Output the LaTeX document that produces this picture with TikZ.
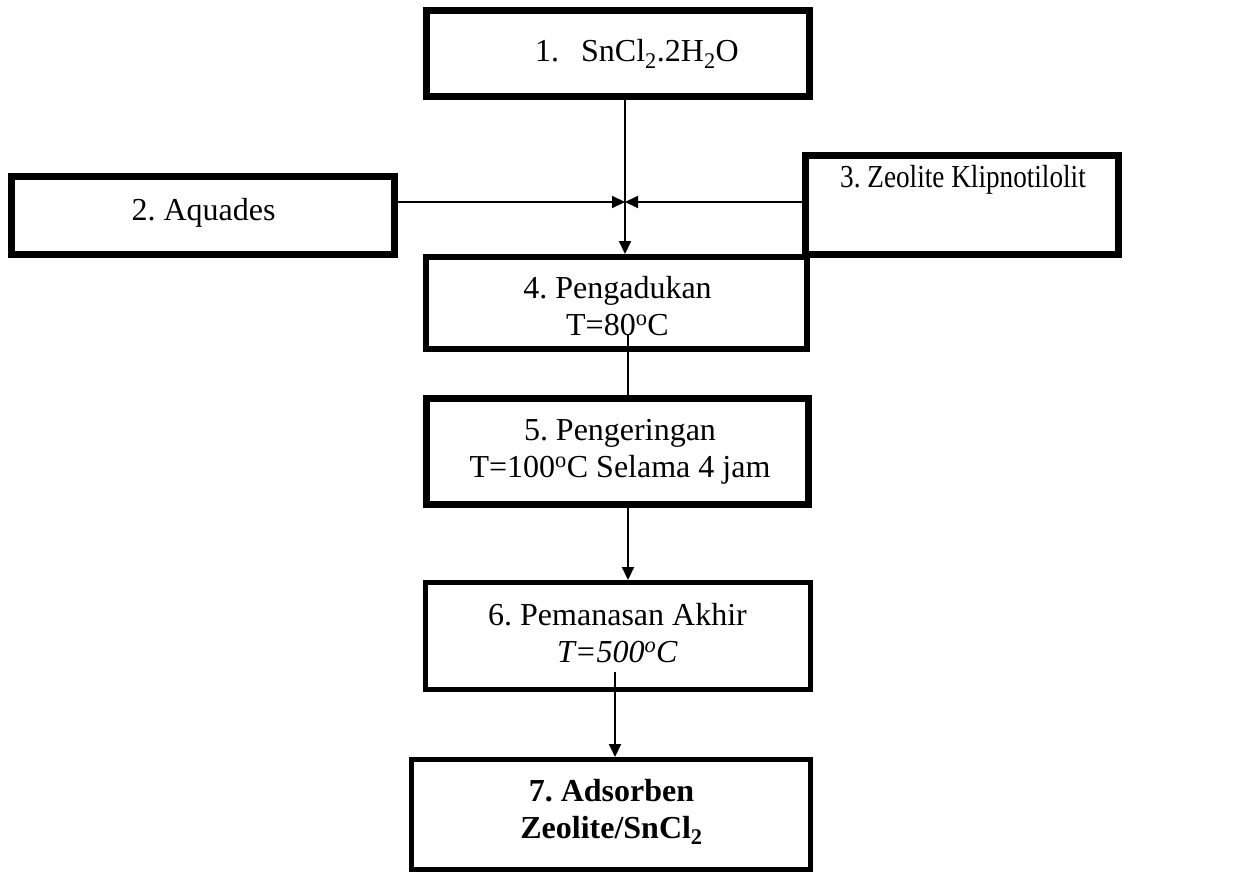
\documentclass[tikz,border=0pt]{standalone}
\usepackage{fontspec}
\usepackage{graphicx}
\setmainfont{Liberation Serif}
\usetikzlibrary{arrows.meta}
\begin{document}
\frenchspacing
\begin{tikzpicture}[x=1pt,y=-1pt,
  box/.style={draw=black,fill=white,rectangle,inner sep=0pt},
  lbl/.style={anchor=base,align=center,inner sep=0pt,font=\fontsize{32}{37}\selectfont},
  conn/.style={draw=black,line width=2pt},
  arr/.style={conn,-{Triangle[length=13pt,width=12pt]}}]
\useasboundingbox (0,0) rectangle (1233,872);
% boxes
\node[box,line width=7pt,minimum width=383pt,minimum height=86pt] (b1) at (618,53.5) {};
\node[box,line width=7pt,minimum width=383pt,minimum height=78pt] (b2) at (203,215.5) {};
\node[box,line width=7pt,minimum width=313pt,minimum height=99pt] (b3) at (962,205) {};
\node[box,line width=6pt,minimum width=381pt,minimum height=92pt] (b4) at (616.5,303) {};
\node[box,line width=7pt,minimum width=382pt,minimum height=106pt] (b5) at (617.5,451.5) {};
\node[box,line width=5pt,minimum width=385pt,minimum height=107pt] (b6) at (618,636) {};
\node[box,line width=5pt,minimum width=399pt,minimum height=110pt] (b7) at (611,814.5) {};
% labels (base anchor = baseline of last line)
\node[lbl] (t1) at (637,62) {1.\hspace{22pt}SnCl\textsubscript{2}.2H\textsubscript{2}O};
\node[lbl] (t2) at (203.5,220) {2. Aquades};
\node[lbl] (t3) at (963,187) {\scalebox{0.85}[1]{3. Zeolite Klipnotilolit}};
\node[lbl] (t4) at (617.5,335) {4. Pengadukan\\T=80\textsuperscript{o}C};
\node[lbl] (t5) at (620,477) {5. Pengeringan\\T=100\textsuperscript{o}C Selama 4 jam};
\node[lbl] (t6) at (617.5,662) {6. Pemanasan Akhir\\\textit{T=500\textsuperscript{o}C}};
\node[lbl,font=\fontsize{32}{37}\selectfont\bfseries] (t7) at (611.5,838) {7. Adsorben\\Zeolite/SnCl\textsubscript{2}};
% connectors
\coordinate (j) at (625,202);
\coordinate (c4) at (628,335);
\coordinate (c6) at (615,672);
\draw[arr] (b1.south -| j) -- (b4.north -| j);
\draw[arr] (b2.east |- j) -- (j);
\draw[arr] (b3.west |- j) -- (j);
\draw[conn] (c4) -- (b5.north -| c4);
\draw[arr] (b5.south -| c4) -- (b6.north -| c4);
\draw[arr] (c6) -- (b7.north -| c6);
\end{tikzpicture}
\end{document}
